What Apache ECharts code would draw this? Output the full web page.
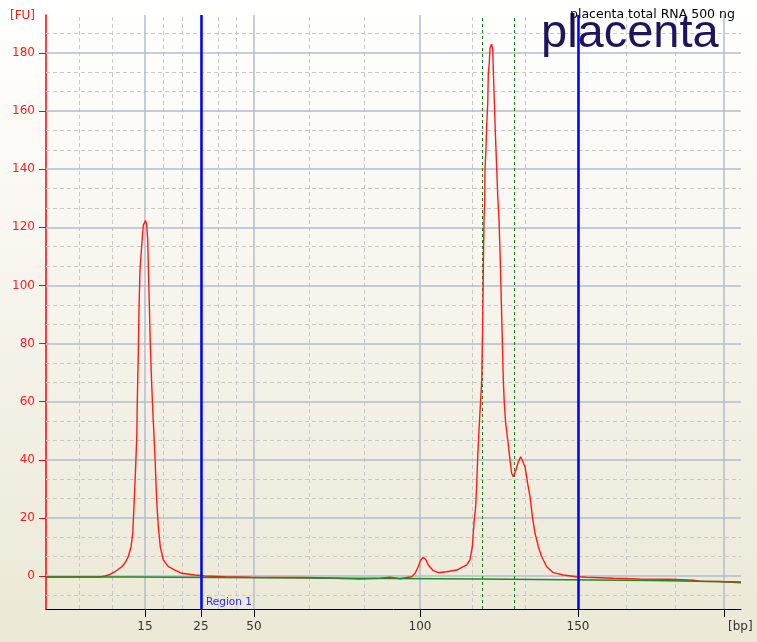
<!DOCTYPE html>
<html>
<head>
<meta charset="utf-8">
<script src="https://cdn.jsdelivr.net/npm/echarts@6/dist/echarts.min.js"></script>
<style>
  html, body { margin: 0; padding: 0; }
  #chart { width: 757px; height: 642px; }
</style>
</head>
<body>
<div id="chart"></div>
<script>
// Electropherogram trace: migration time (s) and fluorescence (FU)
const traceTime = [20.00, 23.88, 24.24, 24.60, 24.96, 25.45, 25.68, 25.92, 26.12, 26.24,
  26.35, 26.45, 26.53, 26.57, 26.64, 26.69, 26.76, 26.88, 27.00, 27.16,
  27.24, 27.32, 27.36, 27.43, 27.50, 27.60, 27.68, 27.84, 27.96, 28.08,
  28.22, 28.44, 28.80, 29.28, 29.76, 30.72, 31.44, 32.88, 34.68, 38.71,
  38.85, 42.59, 44.03, 44.75, 45.47, 46.31, 46.55, 46.78, 46.96, 47.14,
  47.34, 47.50, 47.86, 48.22, 48.83, 49.55, 49.78, 50.27, 50.50, 50.67,
  50.79, 50.91, 50.99, 51.06, 51.15, 51.27, 51.35, 51.42, 51.47, 51.51,
  51.56, 51.58, 51.65, 51.71, 51.78, 51.82, 51.89, 51.94, 52.06, 52.14,
  52.18, 52.25, 52.32, 52.42, 52.50, 52.59, 52.68, 52.79, 52.90, 52.97,
  53.07, 53.22, 53.38, 53.50, 53.62, 53.81, 53.98, 54.15, 54.29, 54.46,
  54.65, 54.82, 54.99, 55.18, 55.42, 55.66, 56.02, 56.50, 57.22, 58.18,
  58.90, 60.81, 62.73, 64.89, 66.57, 67.05, 68.42, 68.53, 70.00];
const traceFU = [-0.34, -0.34, 0.00, 0.52, 1.48, 3.20, 4.47, 6.64, 10.08, 14.70,
  26.16, 37.62, 47.94, 60.57, 76.75, 91.55, 105.31, 113.33, 120.80, 122.35,
  120.80, 115.64, 106.45, 93.96, 80.19, 66.42, 57.13, 41.06, 26.16, 16.97,
  10.08, 5.51, 3.20, 2.06, 0.93, 0.34, 0.00, -0.24, -0.45, -0.52,
  -0.93, -1.03, -0.79, -0.45, -0.93, -0.24, 0.93, 3.20, 5.51, 6.44,
  5.51, 3.79, 1.82, 1.14, 1.48, 2.06, 2.65, 3.79, 5.51, 10.08,
  18.14, 23.85, 31.90, 41.06, 50.25, 60.57, 67.46, 88.11, 108.76, 122.52,
  128.27, 139.73, 146.61, 155.80, 162.69, 173.01, 176.45, 181.62, 183.09, 181.03,
  174.15, 163.82, 153.50, 140.87, 130.54, 122.52, 108.76, 88.11, 67.46, 59.44,
  52.55, 46.81, 39.92, 35.35, 34.18, 36.48, 39.34, 41.06, 40.51, 37.62,
  31.90, 27.29, 20.41, 14.70, 10.08, 6.64, 3.20, 1.14, 0.34, -0.24,
  -0.45, -0.79, -1.03, -1.14, -1.48, -1.82, -1.89, -2.31, -2.31];

// Fitted baseline under the trace
const baseTime = [20.00, 26.26, 26.33, 51.26, 51.37, 63.60, 63.74, 70.00];
const baseFU = [-0.34, -0.34, -0.79, -1.03, -1.48, -1.55, -1.82, -2.06];

// Ladder fragments: size (bp) and their migration times (s)
const ladderBp = [15, 25, 50, 100, 150, 200];
const ladderTime = [27.12, 31.15, 34.96, 46.91, 58.27, 68.78];
const labelledLadder = ladderTime.slice(0, 5);

// Fluorescence axis ticks
const fuTicks = [0, 20, 40, 60, 80, 100, 120, 140, 160, 180];

// Region 1 boundaries and the peak window (s)
const regionBounds = [31.15, 58.27];
const peakWindow = [51.42, 53.72];

const X_MIN = 20, X_MAX = 70;
const Y_MIN = -11.36, Y_MAX = 193.08;
const FONT = '"DejaVu Sans", Tahoma, sans-serif';

// Grid: solid lines at ladder sizes and FU ticks, dashed thirds in between
const xStops = [X_MIN].concat(ladderTime);
const minorX = [];
for (let i = 0; i < xStops.length - 1; i++) {
  const a = xStops[i], b = xStops[i + 1];
  minorX.push(a + (b - a) / 3, a + 2 * (b - a) / 3);
}
const minorY = [];
for (let k = -1; k <= 28; k++) {
  if (k % 3 === 0) continue;
  const v = k * 20 / 3;
  if (v > Y_MIN && v < Y_MAX) minorY.push(v);
}

const dashStyle = { color: '#c9c9c9', width: 1, type: [4, 3] };
const solidStyle = { color: '#b3bccd', width: 1.5, type: 'solid' };

const gridLines = []
  .concat(minorX.map(t => ({ xAxis: t, lineStyle: dashStyle })))
  .concat(minorY.map(v => ({ yAxis: v, lineStyle: dashStyle })))
  .concat(ladderTime.map(t => ({ xAxis: t, lineStyle: solidStyle })))
  .concat(fuTicks.map(v => ({ yAxis: v, lineStyle: solidStyle })));

const toPairs = (xs, ys) => xs.map((x, i) => [x, ys[i]]);

const chart = echarts.init(document.getElementById('chart'), null, { renderer: 'canvas' });

chart.setOption({
  animation: false,
  backgroundColor: new echarts.graphic.LinearGradient(0, 0, 0, 1, [
    { offset: 0, color: '#ffffff' },
    { offset: 1, color: '#ebe8d6' }
  ]),
  grid: { left: 46, right: 16, top: 15, bottom: 33 },
  xAxis: {
    type: 'value',
    min: X_MIN,
    max: X_MAX,
    axisLine: { show: true, onZero: false, lineStyle: { color: '#000000', width: 1 } },
    axisTick: { show: true, customValues: ladderTime, length: 8, lineStyle: { color: '#000000' } },
    axisLabel: {
      customValues: labelledLadder,
      color: '#333333',
      fontFamily: FONT,
      fontSize: 12,
      margin: 12,
      formatter: v => {
        const i = ladderTime.findIndex(t => Math.abs(t - v) < 1e-6);
        return i >= 0 ? String(ladderBp[i]) : '';
      }
    },
    splitLine: { show: false }
  },
  yAxis: {
    type: 'value',
    min: Y_MIN,
    max: Y_MAX,
    axisLine: { show: true, onZero: false, lineStyle: { color: '#ff0000', width: 1.5 } },
    axisTick: { show: true, customValues: fuTicks, length: 7, lineStyle: { color: '#ff0000' } },
    axisLabel: {
      customValues: fuTicks,
      color: '#ff1a1a',
      fontFamily: FONT,
      fontSize: 12,
      margin: 11
    },
    splitLine: { show: false }
  },
  graphic: [
    {
      type: 'text', x: 10, y: 16, z: 6,
      style: { text: '[FU]', font: '12px ' + FONT, fill: '#ff1a1a',
        align: 'left', verticalAlign: 'middle', textAlign: 'left', textVerticalAlign: 'middle' }
    },
    {
      type: 'text', x: 728, y: 627, z: 6,
      style: { text: '[bp]', font: '12px ' + FONT, fill: '#333333',
        align: 'left', verticalAlign: 'middle', textAlign: 'left', textVerticalAlign: 'middle' }
    },
    {
      type: 'text', x: 541, y: 34, z: 6,
      style: { text: 'placenta', font: '47px "Liberation Sans", Arial, sans-serif', fill: '#21145f',
        align: 'left', verticalAlign: 'middle', textAlign: 'left', textVerticalAlign: 'middle' }
    },
    {
      type: 'text', x: 570, y: 14.5, z: 7,
      style: { text: 'placenta total RNA 500 ng', font: '12.5px ' + FONT, fill: '#000000',
        align: 'left', verticalAlign: 'middle', textAlign: 'left', textVerticalAlign: 'middle' }
    },
    {
      type: 'text', x: 206, y: 602, z: 11,
      style: { text: 'Region 1', font: '10.5px ' + FONT, fill: '#2a2aff',
        align: 'left', verticalAlign: 'middle', textAlign: 'left', textVerticalAlign: 'middle' }
    }
  ],
  series: [
    {
      name: 'grid',
      type: 'line',
      data: [],
      silent: true,
      markLine: {
        z: 1,
        silent: true,
        animation: false,
        symbol: ['none', 'none'],
        label: { show: false },
        data: gridLines
      }
    },
    {
      name: 'peak window',
      type: 'line',
      data: [],
      silent: true,
      markLine: {
        z: 2,
        silent: true,
        animation: false,
        symbol: ['none', 'none'],
        label: { show: false },
        lineStyle: { color: '#118811', width: 1, type: [3, 3] },
        data: peakWindow.map(t => ({ xAxis: t }))
      }
    },
    {
      name: 'trace',
      type: 'line',
      z: 3,
      data: toPairs(traceTime, traceFU),
      showSymbol: false,
      symbol: 'none',
      lineStyle: { color: '#ff1a1a', width: 1.4 }
    },
    {
      name: 'baseline',
      type: 'line',
      z: 4,
      data: toPairs(baseTime, baseFU),
      showSymbol: false,
      symbol: 'none',
      lineStyle: { color: '#1e8a1e', width: 1.3 }
    },
    {
      name: 'region',
      type: 'line',
      data: [],
      silent: true,
      markLine: {
        z: 10,
        silent: true,
        animation: false,
        symbol: ['none', 'none'],
        label: { show: false },
        lineStyle: { color: '#0000ff', width: 2.5, type: 'solid' },
        data: regionBounds.map(t => ({ xAxis: t }))
      }
    }
  ]
});
</script>
</body>
</html>
